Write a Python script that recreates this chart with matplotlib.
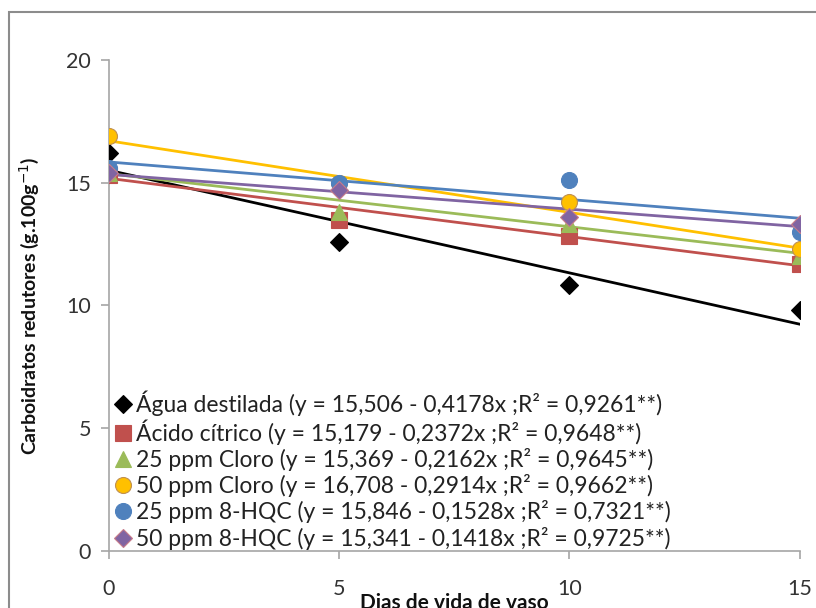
import matplotlib.pyplot as plt
from matplotlib.patches import Rectangle
import numpy as np

plt.rcParams['font.family'] = ['Lato', 'DejaVu Sans']

dias = [0, 5, 10, 15]

series = ["Água destilada", "Ácido cítrico", "25 ppm Cloro",
          "50 ppm Cloro", "25 ppm 8-HQC", "50 ppm 8-HQC"]
agua = [16.2, 12.6, 10.85, 9.8]
acido = [15.3, 13.5, 12.85, 11.7]
cloro25 = [15.4, 13.8, 13.3, 12.0]
cloro50 = [16.9, 15.0, 14.2, 12.3]
hqc25 = [15.6, 15.0, 15.1, 13.0]
hqc50 = [15.4, 14.7, 13.6, 13.3]

# coeficientes das retas ajustadas (a + b*x) e R²
interc = [15.506, 15.179, 15.369, 16.708, 15.846, 15.341]
incl = [-0.4178, -0.2372, -0.2162, -0.2914, -0.1528, -0.1418]
r2 = [0.9261, 0.9648, 0.9645, 0.9662, 0.7321, 0.9725]

cores = ['#000000', '#c0504d', '#9bbb59', '#ffc000', '#4f81bd', '#8064a2']
marcadores = ['D', 's', '^', 'o', 'o', 'D']
tamanhos = [9, 11, 11, 11.5, 11.5, 9]

fig = plt.figure(figsize=(8.16, 6.08), dpi=100)
ax = fig.add_axes([0.1336, 0.0938, 0.8464, 0.8075])

# moldura externa do gráfico
fig.patches.append(Rectangle((0.011, -0.05), 1.2, 1.03, transform=fig.transFigure,
                             fill=False, edgecolor='#8c8c8c', linewidth=1.5))

dados = [agua, acido, cloro25, cloro50, hqc25, hqc50]
xl = np.array([0, 15])
for i, y in enumerate(dados):
    ax.plot(xl, interc[i] + incl[i] * xl, color=cores[i], linewidth=2.0, zorder=2)

for i, y in enumerate(dados):
    txt = (f"{series[i]} (y = {interc[i]:.3f} - {abs(incl[i]):.4f}x ;"
           f"R² = {r2[i]:.4f}**)").replace('.', ',')
    mec = cores[i]
    if i == 3:
        mec = '#c09050'
    if i == 5:
        mec = '#c77b8a'
    ax.plot(dias, y, linestyle='none', marker=marcadores[i], markersize=tamanhos[i],
            color=cores[i], markeredgecolor=mec, markeredgewidth=0.8,
            label=txt, zorder=3)

ax.set_xlim(0, 15)
ax.set_ylim(0, 20)
ax.set_xticks([0, 5, 10, 15])
ax.set_yticks([0, 5, 10, 15, 20])
for s in ['top', 'right']:
    ax.spines[s].set_visible(False)
for s in ['left', 'bottom']:
    ax.spines[s].set_color('#a6a6a6')
    ax.spines[s].set_linewidth(1.2)
ax.tick_params(axis='both', colors='#a6a6a6', length=6, width=1.2,
               labelsize=15.5, labelcolor='#333333')
ax.tick_params(axis='x', pad=14)
ax.tick_params(axis='y', pad=7)

ax.set_xlabel("Dias de vida de vaso", fontsize=15, fontweight='bold',
              color='#111111')
ax.xaxis.set_label_coords(0.5, -0.085)
ax.set_ylabel("Carboidratos redutores (g.100g$^{-1}$)", fontsize=14,
              fontweight='bold', color='#111111')
ax.yaxis.set_label_coords(-0.098, 0.5)

ax.legend(loc='lower left', bbox_to_anchor=(-0.019, -0.03), frameon=False,
          fontsize=16.5, handletextpad=0.05, handlelength=1.0, labelspacing=0.14,
          borderaxespad=0.3, labelcolor='#222222')

fig.savefig('out.png', dpi=100)
